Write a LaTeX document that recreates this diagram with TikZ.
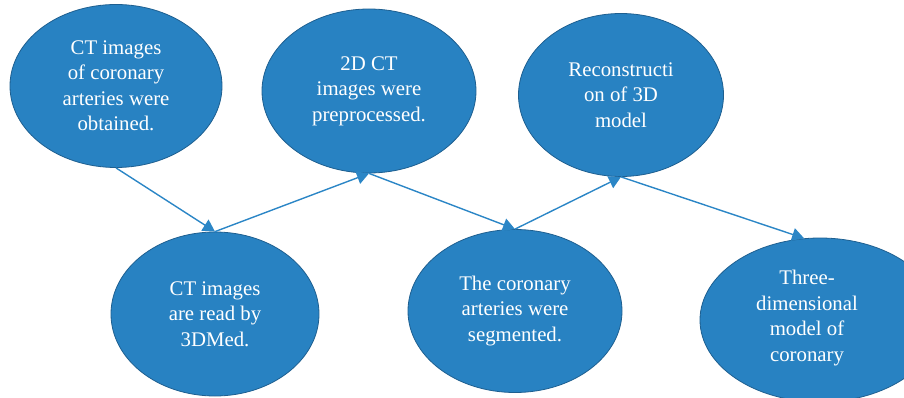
\documentclass[tikz,border=0pt]{standalone}
\usepackage{fontspec}
\setmainfont{Liberation Serif}
\usetikzlibrary{shapes.geometric,arrows.meta}
\definecolor{ellfill}{HTML}{2882C2}
\definecolor{elldraw}{HTML}{1E5F90}
\definecolor{arrcol}{HTML}{2B86C6}
\tikzset{
  stepell/.style={ellipse, fill=ellfill, draw=elldraw, line width=0.8pt,
    inner sep=0pt, text=white, align=center,
    font=\fontsize{20.8}{25.5}\selectfont},
  steptext/.style={text=white, align=center, inner sep=0pt,
    font=\fontsize{20.8}{25.5}\selectfont},
  flowarr/.style={draw=arrcol, line width=1.4pt,
    -{Triangle[length=12pt,width=13pt]}}
}
\begin{document}
\begin{tikzpicture}[x=1pt,y=-1pt]
\useasboundingbox (0,0) rectangle (904,398);
\node[stepell, minimum width=212pt, minimum height=163pt] (a) at (116,86)
  {CT images\\of coronary\\arteries were\\obtained.};
\node[stepell, minimum width=214pt, minimum height=164pt] (b) at (369,91)
  {2D CT\\images were\\preprocessed.};
\node[stepell, minimum width=205pt, minimum height=163pt] (c) at (621,95)
  {Reconstructi\\on of 3D\\model};
\node[stepell, minimum width=208pt, minimum height=164pt] (d) at (215,314)
  {CT images\\are read by\\3DMed.};
\node[stepell, minimum width=214pt, minimum height=163pt] (e) at (515,311)
  {The coronary\\arteries were\\segmented.};
\node[stepell, minimum width=240pt, minimum height=164pt] (f) at (820,320) {};
\node[steptext] (ftext) at (807,318)
  {Three-\\dimensional\\model of\\coronary};
\draw[flowarr] (a.south) -- (d.north);
\draw[flowarr] (d.north) -- (b.south);
\draw[flowarr] (b.south) -- (e.north);
\draw[flowarr] (e.north) -- (c.south);
\draw[flowarr] (c.south) -- (f.101);
\end{tikzpicture}
\end{document}
